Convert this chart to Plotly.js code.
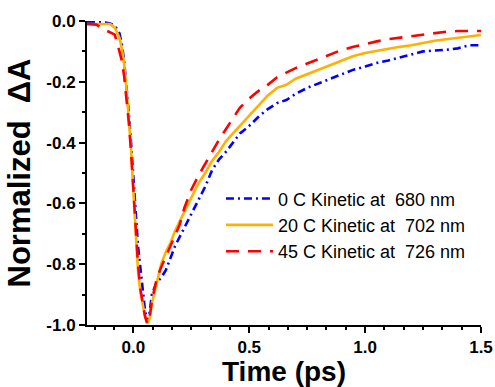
<!DOCTYPE html>
<html>
<head>
<meta charset="utf-8">
<script src="https://cdn.plot.ly/plotly-3.0.1.min.js"></script>
<style>html,body{margin:0;padding:0;background:#fff;}#chart{width:495px;height:387px;}</style>
</head>
<body>
<div id="chart"></div>
<script>
var time = [-0.2,-0.16,-0.12,-0.1,-0.08,-0.06,-0.05,-0.04,-0.03,-0.02,-0.01,0,0.01,0.02,0.03,0.04,0.05,0.06,0.07,0.08,0.1,0.12,0.14,0.16,0.18,0.2,0.22,0.25,0.28,0.31,0.34,0.37,0.4,0.43,0.46,0.5,0.54,0.58,0.62,0.66,0.7,0.75,0.8,0.85,0.9,0.95,1.0,1.05,1.1,1.15,1.2,1.25,1.3,1.35,1.4,1.45,1.5];

var kinetic0C = [-0.002,-0.003,-0.005,-0.008,-0.015,-0.04,-0.075,-0.13,-0.21,-0.30,-0.40,-0.52,-0.63,-0.74,-0.81,-0.88,-0.95,-0.99,-0.96,-0.90,-0.86,-0.845,-0.82,-0.78,-0.74,-0.71,-0.68,-0.63,-0.585,-0.545,-0.49,-0.455,-0.43,-0.40,-0.37,-0.345,-0.315,-0.29,-0.27,-0.26,-0.24,-0.22,-0.205,-0.19,-0.175,-0.16,-0.15,-0.138,-0.13,-0.12,-0.11,-0.10,-0.097,-0.095,-0.09,-0.08,-0.08];

var kinetic20C = [-0.01,-0.01,-0.008,-0.01,-0.022,-0.055,-0.09,-0.14,-0.22,-0.31,-0.42,-0.56,-0.70,-0.82,-0.89,-0.935,-0.97,-0.995,-0.98,-0.93,-0.86,-0.80,-0.76,-0.73,-0.69,-0.66,-0.625,-0.58,-0.535,-0.50,-0.46,-0.43,-0.395,-0.37,-0.345,-0.31,-0.28,-0.245,-0.22,-0.21,-0.19,-0.175,-0.16,-0.145,-0.13,-0.115,-0.105,-0.098,-0.092,-0.085,-0.08,-0.072,-0.065,-0.06,-0.055,-0.05,-0.046];

var kinetic45C = [-0.01,-0.012,-0.03,-0.038,-0.045,-0.10,-0.13,-0.18,-0.25,-0.33,-0.43,-0.56,-0.69,-0.80,-0.88,-0.93,-0.97,-0.995,-0.975,-0.92,-0.85,-0.81,-0.775,-0.74,-0.70,-0.67,-0.615,-0.555,-0.51,-0.47,-0.43,-0.39,-0.355,-0.32,-0.285,-0.255,-0.23,-0.21,-0.185,-0.17,-0.155,-0.14,-0.125,-0.11,-0.095,-0.085,-0.075,-0.067,-0.06,-0.055,-0.05,-0.045,-0.038,-0.035,-0.033,-0.033,-0.033];

var seriesNames = ['0 C Kinetic at&nbsp; 680 nm','20 C Kinetic at&nbsp; 702 nm','45 C Kinetic at&nbsp; 726 nm'];
var xTickVals = [0,0.5,1.0,1.5];
var xTickText = ['0.0','0.5','1.0','1.5'];
var yTickVals = [0,-0.2,-0.4,-0.6,-0.8,-1.0];
var yTickText = ['0.0','-0.2','-0.4','-0.6','-0.8','-1.0'];

var FONT = 'Arial, "Liberation Sans", sans-serif';

var traces = [
  {x: time, y: kinetic0C, name: seriesNames[0], mode: 'lines',
   line: {color: '#0000FF', width: 2.6, dash: '8px,4px,2px,4px'}},
  {x: time, y: kinetic20C, name: seriesNames[1], mode: 'lines',
   line: {color: '#FFB000', width: 2.6}},
  {x: time, y: kinetic45C, name: seriesNames[2], mode: 'lines',
   line: {color: '#FF0000', width: 2.6, dash: '13px,9px'}}
];

var layout = {
  width: 495, height: 387,
  margin: {l: 87, r: 14, t: 21, b: 62},
  paper_bgcolor: '#ffffff', plot_bgcolor: '#ffffff',
  showlegend: true,
  legend: {x: 0.34, y: 0.476, xanchor: 'left', yanchor: 'top',
    bgcolor: 'rgba(0,0,0,0)', borderwidth: 0, itemwidth: 47, tracegroupgap: 0,
    font: {family: FONT, size: 18, color: '#000'}},
  xaxis: {
    range: [-0.2, 1.5], showgrid: false, zeroline: false,
    showline: true, linecolor: '#000', linewidth: 2, mirror: false,
    tickmode: 'array', tickvals: xTickVals, ticktext: xTickText,
    ticks: 'outside', ticklen: 6, tickwidth: 2, tickcolor: '#000',
    minor: {tick0: 0, dtick: 1/12, ticks: 'outside', ticklen: 3, tickwidth: 2, tickcolor: '#000', showgrid: false},
    tickfont: {family: FONT, size: 17, weight: 'bold', color: '#000'},
    title: {text: 'Time (ps)', standoff: 12, font: {family: FONT, size: 28, weight: 'bold', color: '#000'}}
  },
  yaxis: {
    range: [-1.0, 0.0], showgrid: false, zeroline: false,
    showline: true, linecolor: '#000', linewidth: 2, mirror: false,
    tickmode: 'array', tickvals: yTickVals, ticktext: yTickText,
    ticks: 'outside', ticklen: 6, tickwidth: 2, tickcolor: '#000',
    minor: {tick0: 0, dtick: 0.1, ticks: 'outside', ticklen: 3, tickwidth: 2, tickcolor: '#000', showgrid: false},
    tickfont: {family: FONT, size: 17, weight: 'bold', color: '#000'},
    title: {text: 'Normalized&nbsp; \u0394A', standoff: 6, font: {family: FONT, size: 31, weight: 'bold', color: '#000'}}
  }
};

Plotly.newPlot('chart', traces, layout, {staticPlot: true, displayModeBar: false});
</script>
</body>
</html>
